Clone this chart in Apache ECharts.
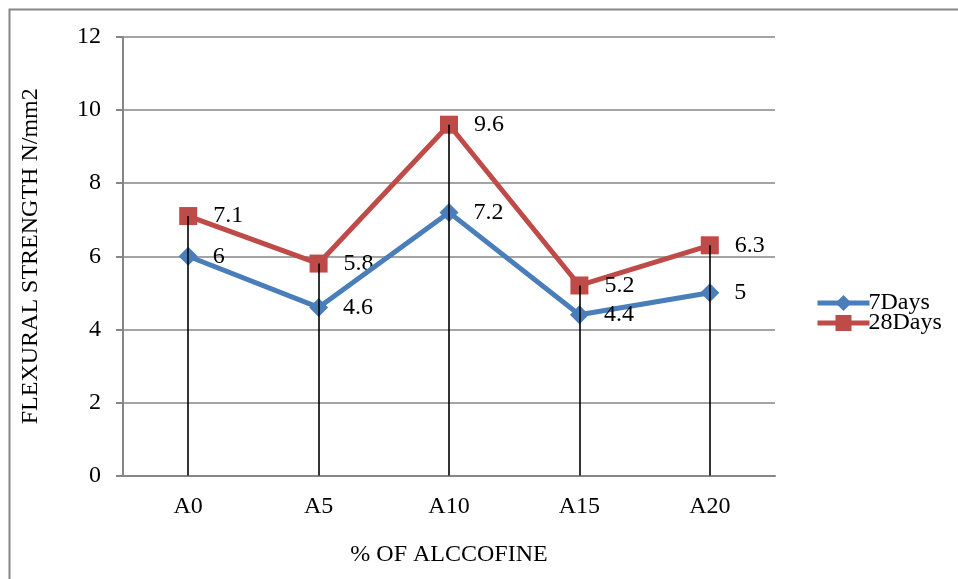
<!DOCTYPE html>
<html>
<head>
<meta charset="utf-8">
<script src="https://cdn.jsdelivr.net/npm/echarts@6/dist/echarts.min.js"></script>
<style>
  html, body { margin: 0; padding: 0; background: #fff; }
  #chart { width: 958px; height: 579px; }
</style>
</head>
<body>
<div id="chart"></div>
<script>
// Flexural strength by alccofine replacement level
const categories = ['A0', 'A5', 'A10', 'A15', 'A20'];
const days7 = [6, 4.6, 7.2, 4.4, 5];
const days28 = [7.1, 5.8, 9.6, 5.2, 6.3];
const yTicks = [0, 2, 4, 6, 8, 10, 12];

const serif = '"Liberation Serif", "Times New Roman", serif';
const gridGray = '#868686';

// vertical drop lines from the higher point of each category to the axis
const dropLines = categories.map((c, i) => [
  { coord: [i, Math.max(days7[i], days28[i])] },
  { coord: [i, 0] }
]);

const chart = echarts.init(document.getElementById('chart'));
chart.setOption({
  animation: false,
  backgroundColor: '#fff',
  textStyle: { fontFamily: serif, color: '#000' },
  graphic: [{
    type: 'rect',
    shape: { x: 9.5, y: 9.5, width: 980, height: 600 },
    style: { fill: 'none', stroke: gridGray, lineWidth: 2 },
    silent: true
  }],
  grid: { left: 123, right: 183, top: 37, bottom: 103.5 },
  legend: {
    orient: 'vertical',
    left: 810,
    top: 286,
    itemWidth: 52,
    itemHeight: 20,
    itemGap: -4,
    lineStyle: { width: 5 },
    textStyle: { fontFamily: serif, fontSize: 24, color: '#000', padding: [0, 0, 0, -6] },
    data: ['7Days', '28Days']
  },
  xAxis: {
    type: 'category',
    data: categories,
    boundaryGap: true,
    name: '% OF ALCCOFINE',
    nameLocation: 'middle',
    nameGap: 67,
    nameTextStyle: { fontFamily: serif, fontSize: 24, color: '#000' },
    axisLine: { lineStyle: { color: gridGray, width: 2 } },
    axisTick: { show: false },
    axisLabel: { fontFamily: serif, fontSize: 24, color: '#000', margin: 19 }
  },
  yAxis: {
    type: 'value',
    min: yTicks[0],
    max: yTicks[yTicks.length - 1],
    interval: 2,
    name: 'FLEXURAL STRENGTH N/mm2',
    nameLocation: 'middle',
    nameGap: 80,
    nameTextStyle: { fontFamily: serif, fontSize: 24, color: '#000' },
    axisLine: { show: true, lineStyle: { color: gridGray, width: 2 } },
    axisTick: { show: true, length: 7, lineStyle: { color: gridGray, width: 2 } },
    axisLabel: { fontFamily: serif, fontSize: 24, color: '#000', margin: 22,
      formatter: v => yTicks.includes(v) ? String(v) : '' },
    splitLine: { show: true, lineStyle: { color: gridGray, width: 1.5 } }
  },
  series: [
    {
      name: '7Days',
      type: 'line',
      data: days7,
      symbol: 'diamond',
      symbolSize: 19,
      color: '#4A7EBB',
      lineStyle: { width: 5, color: '#4A7EBB' },
      itemStyle: { color: '#4A7EBB' },
      z: 3,
      label: {
        show: true, position: 'right', distance: 15,
        fontFamily: serif, fontSize: 24, color: '#000'
      }
    },
    {
      name: '28Days',
      type: 'line',
      data: days28,
      symbol: 'rect',
      symbolSize: 18,
      color: '#BE4B48',
      lineStyle: { width: 5, color: '#BE4B48' },
      itemStyle: { color: '#BE4B48' },
      z: 2,
      label: {
        show: true, position: 'right', distance: 16,
        fontFamily: serif, fontSize: 24, color: '#000'
      },
      markLine: {
        silent: true,
        symbol: ['none', 'none'],
        z: 10,
        label: { show: false },
        lineStyle: { color: '#000', width: 1.6, type: 'solid' },
        emphasis: { disabled: true },
        data: dropLines
      }
    }
  ]
});
</script>
</body>
</html>
